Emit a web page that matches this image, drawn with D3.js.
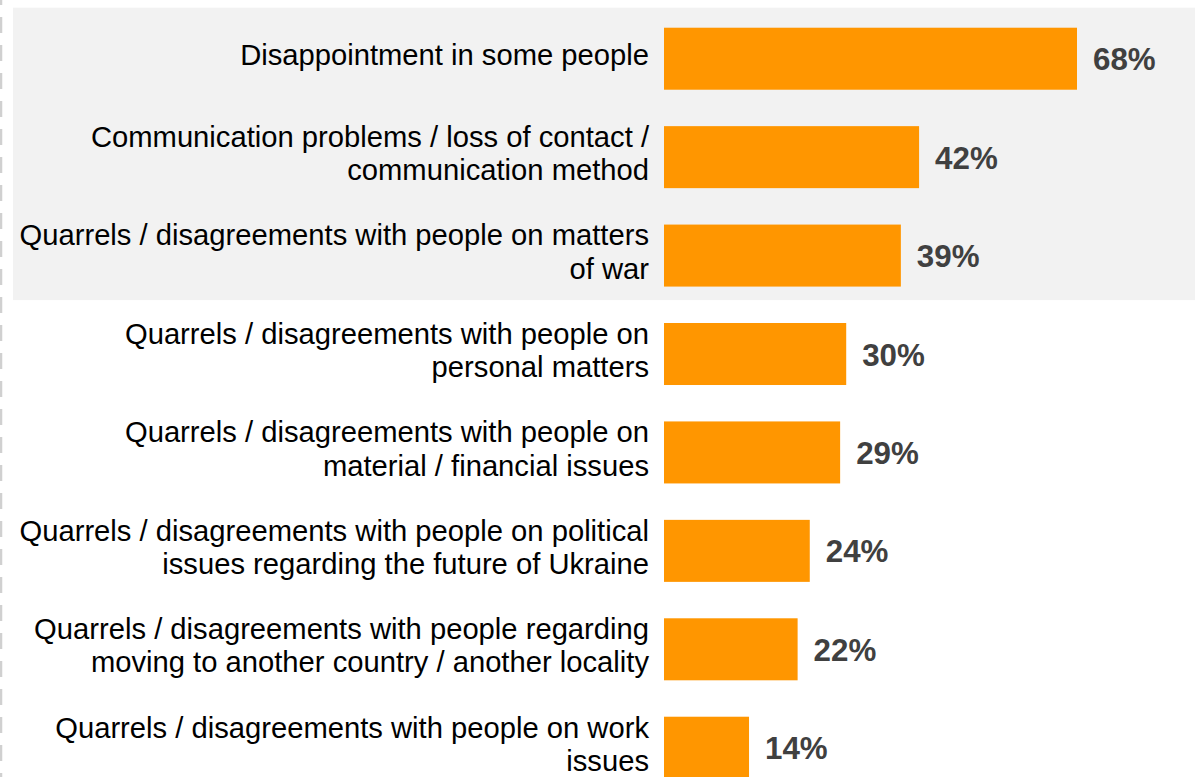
<!DOCTYPE html>
<html>
<head>
<meta charset="utf-8">
<script src="https://cdn.jsdelivr.net/npm/d3@7"></script>
<style>
  html, body { margin: 0; padding: 0; background: #fff; }
  svg { display: block; }
</style>
</head>
<body>
<svg id="chart" width="1195" height="777"></svg>
<script>
const categories = [
  ["Disappointment in some people"],
  ["Communication problems / loss of contact /", "communication method"],
  ["Quarrels / disagreements with people on matters", "of war"],
  ["Quarrels / disagreements with people on", "personal matters"],
  ["Quarrels / disagreements with people on", "material / financial issues"],
  ["Quarrels / disagreements with people on political", "issues regarding the future of Ukraine"],
  ["Quarrels / disagreements with people regarding", "moving to another country / another locality"],
  ["Quarrels / disagreements with people on work", "issues"]
];
const values = [68, 42, 39, 30, 29, 24, 22, 14];
const valueLabels = ["68%", "42%", "39%", "30%", "29%", "24%", "22%", "14%"];
const highlighted = [0, 1, 2];

const svg = d3.select("#chart");
const ids = categories.map((c, i) => i);

const y = d3.scaleBand()
  .domain(ids)
  .range([9.5, 9.5 + 8 * 98.43])
  .paddingInner(0.37)
  .paddingOuter(0.185);

const x = d3.scaleLinear().domain([0, 68]).range([664, 1077]);

// left dashed line
svg.append("line")
  .attr("x1", 1).attr("x2", 1)
  .attr("y1", 0).attr("y2", 777)
  .attr("stroke", "#d0d0d0")
  .attr("stroke-width", 2.5)
  .attr("stroke-dasharray", "16,12")
  .attr("stroke-dashoffset", 11);

// highlight box
const hTop = y(highlighted[0]) - 20;
const hBot = y(highlighted[highlighted.length - 1]) + y.bandwidth() + 13.5;
svg.append("rect")
  .attr("x", 13).attr("y", hTop)
  .attr("width", 1195 - 13).attr("height", hBot - hTop)
  .attr("fill", "#f2f2f2");

// bars
svg.selectAll("rect.bar")
  .data(values)
  .join("rect")
  .attr("class", "bar")
  .attr("x", x(0))
  .attr("y", (d, i) => y(i))
  .attr("width", d => x(d) - x(0))
  .attr("height", y.bandwidth())
  .attr("fill", "#ff9600");

// value labels
svg.selectAll("text.val")
  .data(values)
  .join("text")
  .attr("class", "val")
  .attr("x", d => x(d) + 16)
  .attr("y", (d, i) => y(i) + y.bandwidth() / 2 + 11.5)
  .attr("font-family", "'Liberation Sans', Arial, sans-serif")
  .attr("font-weight", "bold")
  .attr("font-size", 31.3)
  .attr("fill", "#404040")
  .text((d, i) => valueLabels[i]);

// category labels
const L = 33.3;
const lab = svg.selectAll("text.cat")
  .data(categories)
  .join("text")
  .attr("class", "cat")
  .attr("text-anchor", "end")
  .attr("font-family", "'Liberation Sans', Arial, sans-serif")
  .attr("font-size", 29.2)
  .attr("fill", "#000");

lab.each(function(lines, i) {
  const c = y(i) + y.bandwidth() / 2;
  const first = c + 6.5 - (lines.length - 1) * L / 2;
  d3.select(this).selectAll("tspan")
    .data(lines)
    .join("tspan")
    .attr("x", 649)
    .attr("y", (d, j) => first + j * L)
    .text(d => d);
});
</script>
</body>
</html>
